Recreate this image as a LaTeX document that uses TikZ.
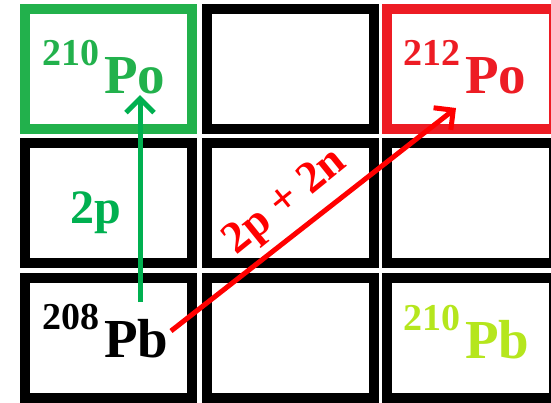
\documentclass[tikz,border=0pt]{standalone}
\usepackage{fontspec}
\setmainfont{Liberation Serif}
\usetikzlibrary{arrows.meta}
\definecolor{pogreen}{HTML}{22B14C}
\definecolor{pored}{HTML}{ED1C24}
\definecolor{pblime}{HTML}{B5E61D}
\definecolor{arrgreen}{HTML}{00B050}
\definecolor{arrred}{HTML}{FF0000}
\newcommand{\nuc}[2]{\raisebox{0.5em}{\fontsize{38}{38}\selectfont #1}\kern5pt#2}

\begin{document}
\begin{tikzpicture}[x=1pt,y=-1pt,font=\fontsize{55}{55}\selectfont\bfseries,
    cell/.style={draw,line width=10pt,minimum width=167pt,minimum height=120pt,inner sep=0pt},
    iso/.style={inner sep=0pt,anchor=base west}]
    \useasboundingbox (0,0) rectangle (551,402);
    % grid of cells
    \node[cell,draw=pogreen] (r1c1) at (108,68.5) {};
    \node[cell] (r1c2) at (290,68.5) {};
    \node[cell,draw=pored] (r1c3) at (470,68.5) {};
    \node[cell] (r2c1) at (108,203) {};
    \node[cell] (r2c2) at (290,203) {};
    \node[cell] (r2c3) at (470,203) {};
    \node[cell] (r3c1) at (108,338) {};
    \node[cell] (r3c2) at (290,338) {};
    \node[cell] (r3c3) at (470,338) {};
    % nuclides
    \node[iso,text=pogreen] (po210) at (42,93) {\nuc{210}{Po}};
    \node[iso,text=pored] (po212) at (403,93) {\nuc{212}{Po}};
    \node[iso] (pb208) at (42,357) {\nuc{208}{Pb}};
    \node[iso,text=pblime] (pb210) at (403,358) {\nuc{210}{Pb}};
    % decays
    \coordinate (gfrom) at (140,302);
    \coordinate (gto) at (140,95);
    \coordinate (rfrom) at (171,331);
    \coordinate (rto) at (456,108);
    \draw[-{Straight Barb[length=14pt,width=28pt]},line width=5pt,arrgreen] (gfrom) -- (gto);
    \draw[-{Straight Barb[length=14pt,width=28pt]},line width=5pt,arrred] (rfrom) -- (rto);
    \node[iso,text=arrgreen,font=\fontsize{48}{48}\selectfont\bfseries] (twop) at (70,223) {2p};
    \node[inner sep=0pt,text=arrred,rotate=39,font=\fontsize{45}{45}\selectfont\bfseries] (twopn) at (286,203) {2p + 2n};
  \end{tikzpicture}
\end{document}
